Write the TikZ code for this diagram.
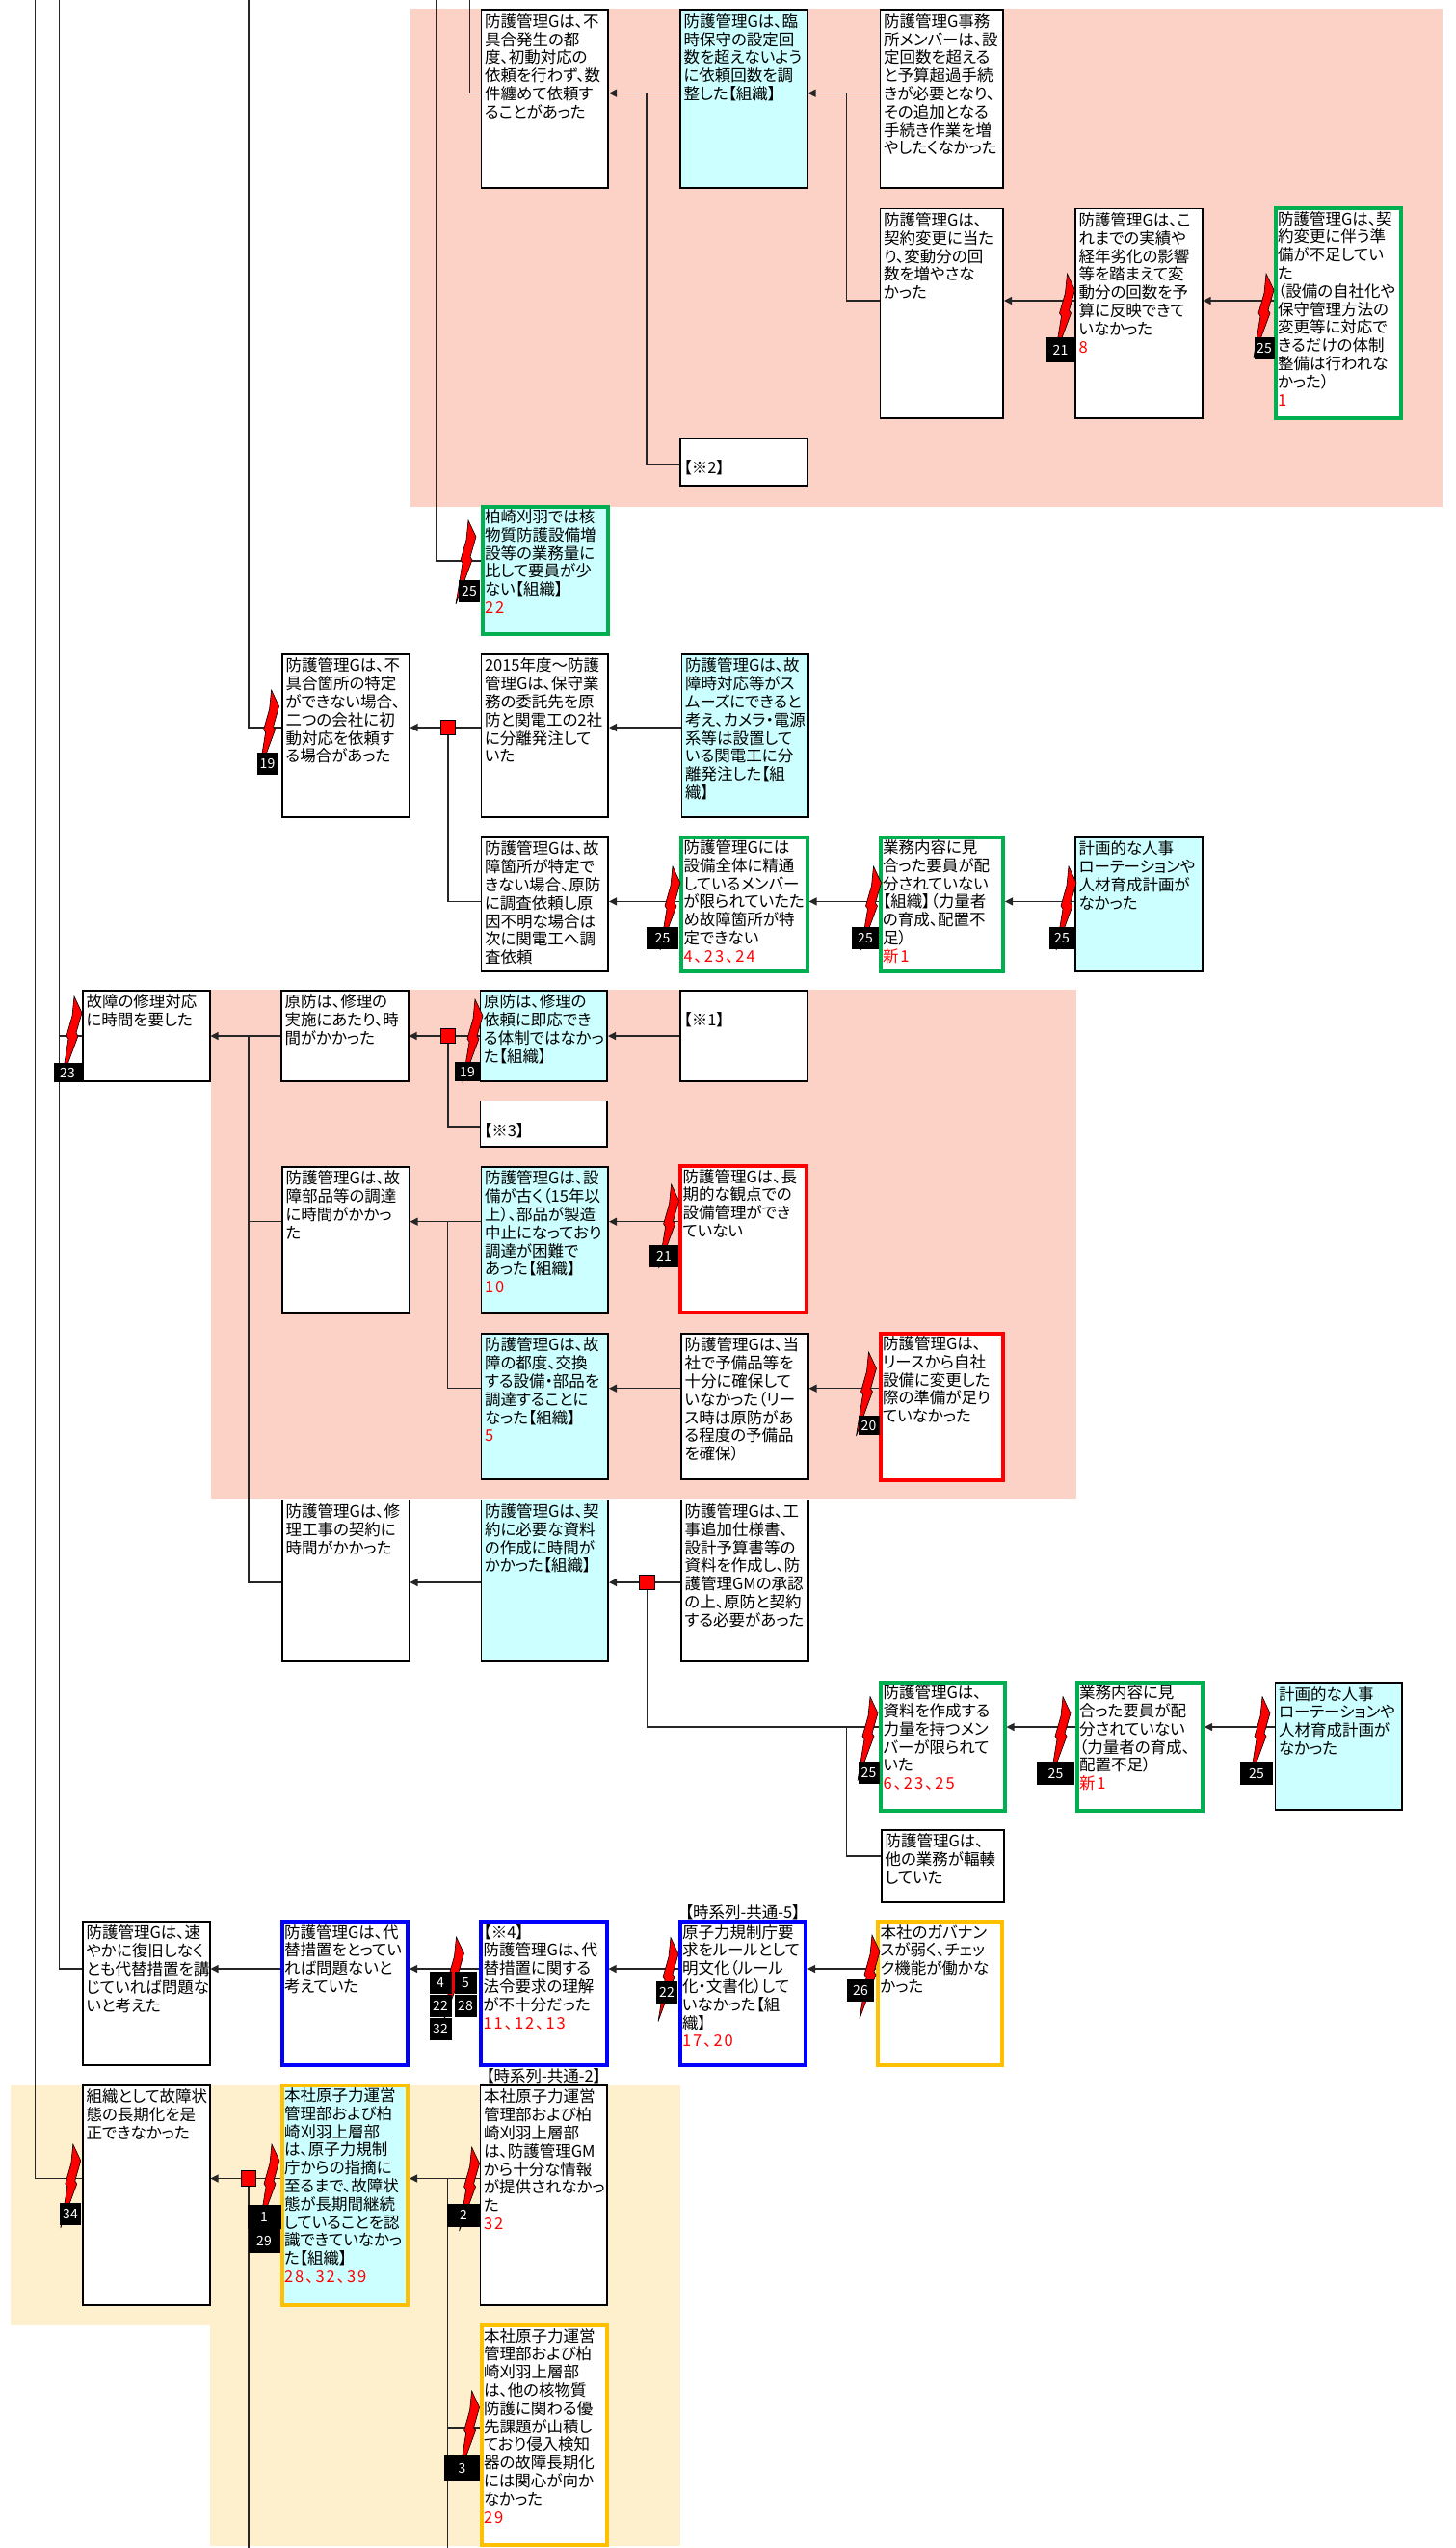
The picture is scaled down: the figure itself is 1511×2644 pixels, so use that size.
\documentclass[tikz,border=0pt]{standalone}
\usepackage{fontspec}
\setmainfont{Noto Sans CJK JP}[RawFeature=+palt]
\usetikzlibrary{arrows.meta,positioning}
\definecolor{rosa}{RGB}{252,210,199}
\definecolor{crema}{RGB}{255,240,205}
\definecolor{celeste}{RGB}{204,255,255}
\definecolor{verde}{RGB}{0,176,80}
\definecolor{oro}{RGB}{255,192,0}
\newcommand{\rojo}[1]{{\color{red}\addfontfeature{LetterSpace=12}#1}}
\tikzset{
  caja/.style={
    anchor=north west, draw, fill=white, line width=1.8pt, align=left,
    font=\fontsize{16.5}{18.8}\selectfont, text width=124.5pt,
    inner xsep=3.6pt, inner ysep=2pt, text height=16pt,
    text depth=\the\dimexpr#1pt-21.8pt\relax},
  cajagruesa/.style 2 args={
    anchor=north west, draw=#1, fill=white, line width=4pt, align=left,
    font=\fontsize{16.5}{18.8}\selectfont, text width=125.5pt,
    inner xsep=2.5pt, inner ysep=1pt, text height=16pt,
    text depth=\the\dimexpr#2pt-22pt\relax},
  nota/.style={font=\fontsize{16.5}{18.8}\selectfont, inner sep=0pt},
  nudo/.style={rectangle, draw, fill=red, line width=.8pt, minimum size=15.5pt, inner sep=0pt},
  marca/.style 2 args={rectangle, fill=black, text=white, font=\fontsize{14}{16}\selectfont,
    minimum width=#1pt, minimum height=#2pt, inner sep=0pt},
  rayo/.style={draw=black, line width=.6pt, fill=red, line join=miter},
  linea/.style={black!85, line width=1.2pt},
  enlace/.style={black!85, line width=1.2pt, -{Triangle[length=8pt,width=8pt]}}
}
\begin{document}
\begin{tikzpicture}[x=1pt,y=-1pt]
\useasboundingbox (0,0) rectangle (1511,2644);

% areas
\fill[rosa] (425.5,9.5) rectangle (1497,525.6);
\fill[rosa] (219,1027) rectangle (1117,1555);
\fill[crema] (11,2163.8) rectangle (706.4,2412.5);
\fill[crema] (218,2412) rectangle (706.4,2642);

% fila superior
\node[caja=186.5] (fuguai) at (498.5,9.5) {防護管理Gは、不\\具合発生の都\\度、初動対応の\\依頼を行わず、数\\件纏めて依頼す\\ることがあった};
\node[right=73pt of fuguai.north east, caja=186.5, fill=celeste] (rinji) {防護管理Gは、臨\\時保守の設定回\\数を超えないよう\\に依頼回数を調\\整した【組織】};
\node[right=74pt of rinji.north east, caja=186.5, text width=120.5pt] (jimu) {防護管理G事務\\所メンバーは、設\\定回数を超える\\と予算超過手続\\きが必要となり、\\その追加となる\\手続き作業を増\\やしたくなかった};
\node[below=19.5pt of jimu.south west, caja=219.5, text width=120.5pt] (henko) {防護管理Gは、\\契約変更に当た\\り、変動分の回\\数を増やさな\\かった};
\node[right=73pt of henko.north east, caja=219.5] (jisseki) {防護管理Gは、こ\\れまでの実績や\\経年劣化の影響\\等を踏まえて変\\動分の回数を予\\算に反映できて\\いなかった\\\rojo{8}};
\node[right=73pt of jisseki.north east, yshift=1.5pt, cajagruesa={verde}{222}] (junbi) {防護管理Gは、契\\約変更に伴う準\\備が不足してい\\た\\（設備の自社化や\\保守管理方法の\\変更等に対応で\\きるだけの体制\\整備は行われな\\かった）\\\rojo{1}};
\node[below=258pt of rinji.south west, caja=51] (kome2) {\mbox{}\\【※2】};
\node[below=327.5pt of fuguai.south west, cajagruesa={verde}{136.5}, fill=celeste] (yoin) {柏崎刈羽では核\\物質防護設備増\\設等の業務量に\\比して要員が少\\ない【組織】\\\rojo{22}};

% 不具合箇所
\node[caja=171] (tokutei) at (292,678) {防護管理Gは、不\\具合箇所の特定\\ができない場合、\\二つの会社に初\\動対応を依頼す\\る場合があった};
\node[right=73pt of tokutei.north east, caja=171] (bunri) {2015年度～防護\\管理Gは、保守業\\務の委託先を原\\防と関電工の2社\\に分離発注して\\いた};
\node[right=74.5pt of bunri.north east, caja=171, fill=celeste] (denko) {防護管理Gは、故\\障時対応等がス\\ムーズにできると\\考え、カメラ・電源\\系等は設置して\\いる関電工に分\\離発注した【組\\織】};
\node[below=19pt of bunri.south west, caja=141] (chosa) {防護管理Gは、故\\障箇所が特定で\\きない場合、原防\\に調査依頼し原\\因不明な場合は\\次に関電工へ調\\査依頼};
\node[right=73pt of chosa.north east, yshift=1.5pt, cajagruesa={verde}{143.5}] (seitsu) {防護管理Gには\\設備全体に精通\\しているメンバー\\が限られていたた\\め故障箇所が特\\定できない\\\rojo{4、23、24}};
\node[right=72pt of seitsu.north east, cajagruesa={verde}{143.5}, text width=122.5pt] (haibun) {業務内容に見\\合った要員が配\\分されていない\\【組織】（力量者\\の育成、配置不\\足）\\\rojo{新1}};
\node[right=72pt of haibun.north east, yshift=-1.5pt, caja=141, fill=celeste] (keikaku) {計画的な人事\\ローテーションや\\人材育成計画が\\なかった};

% 修理対応
\node[caja=95.5] (shuri) at (85,1027) {故障の修理対応\\に時間を要した};
\node[right=72.5pt of shuri.north east, caja=95.5] (genbo) {原防は、修理の\\実施にあたり、時\\間がかかった};
\node[right=73pt of genbo.north east, caja=95.5, fill=celeste] (sokuo) {原防は、修理の\\依頼に即応でき\\る体制ではなかっ\\た【組織】};
\node[right=74pt of sokuo.north east, caja=95.5] (kome1) {\mbox{}\\【※1】};
\node[below=19pt of sokuo.south west, caja=49] (kome3) {\mbox{}\\【※3】};

% 部品調達
\node[caja=153] (buhin) at (292,1210) {防護管理Gは、故\\障部品等の調達\\に時間がかかっ\\た};
\node[right=73pt of buhin.north east, caja=153, fill=celeste] (furui) {防護管理Gは、設\\備が古く（15年以\\上）、部品が製造\\中止になっており\\調達が困難で\\あった【組織】\\\rojo{10}};
\node[right=72pt of furui.north east, yshift=2pt, cajagruesa={red}{156}] (choki) {防護管理Gは、長\\期的な観点での\\設備管理ができ\\ていない};
\node[below=20pt of furui.south west, caja=152.7, fill=celeste] (tsudo) {防護管理Gは、故\\障の都度、交換\\する設備・部品を\\調達することに\\なった【組織】\\\rojo{5}};
\node[right=74pt of tsudo.north east, caja=152.7] (yobi) {防護管理Gは、当\\社で予備品等を\\十分に確保して\\いなかった（リー\\ス時は原防があ\\る程度の予備品\\を確保）};
\node[right=72pt of yobi.north east, yshift=1.5pt, cajagruesa={red}{156}, text width=122.5pt] (lease) {防護管理Gは、\\リースから自社\\設備に変更した\\際の準備が足り\\ていなかった};

% 修理工事の契約
\node[caja=169.5] (koji) at (292,1555.5) {防護管理Gは、修\\理工事の契約に\\時間がかかった};
\node[right=73pt of koji.north east, caja=169.5, fill=celeste] (shiryo) {防護管理Gは、契\\約に必要な資料\\の作成に時間が\\かかった【組織】};
\node[right=74pt of shiryo.north east, caja=169.5] (shiyo) {防護管理Gは、工\\事追加仕様書、\\設計予算書等の\\資料を作成し、防\\護管理GMの承認\\の上、原防と契約\\する必要があった};
\node[cajagruesa={verde}{137.5}, text width=123.5pt] (ryoryoku) at (912,1743.6) {防護管理Gは、\\資料を作成する\\力量を持つメン\\バーが限られて\\いた\\\rojo{6、23、25}};
\node[right=71pt of ryoryoku.north east, cajagruesa={verde}{137.5}] (haibun2) {業務内容に見\\合った要員が配\\分されていない\\（力量者の育成、\\配置不足）\\\rojo{新1}};
\node[right=72.5pt of haibun2.north east, yshift=-1.5pt, caja=134, fill=celeste] (keikaku2) {計画的な人事\\ローテーションや\\人材育成計画が\\なかった};
\node[caja=77, text width=120pt] (fukuso) at (914,1898) {防護管理Gは、\\他の業務が輻輳\\していた};

% 代替措置
\node[caja=151] (fukkyu) at (85,1993) {防護管理Gは、速\\やかに復旧しなく\\とも代替措置を講\\じていれば問題な\\いと考えた};
\node[right=72pt of fukkyu.north east, yshift=1pt, cajagruesa={blue}{152.5}] (sochi) {防護管理Gは、代\\替措置をとってい\\れば問題ないと\\考えていた};
\node[right=72pt of sochi.north east, cajagruesa={blue}{152.5}] (horei) {【※4】\\防護管理Gは、代\\替措置に関する\\法令要求の理解\\が不十分だった\\\rojo{11、12、13}};
\node[right=72pt of horei.north east, cajagruesa={blue}{152.5}] (kisei) {原子力規制庁要\\求をルールとして\\明文化（ルール\\化・文書化）して\\いなかった【組\\織】\\\rojo{17、20}};
\node[right=71pt of kisei.north east, cajagruesa={oro}{152.5}, text width=123.5pt] (gober) {本社のガバナン\\スが弱く、チェッ\\ク機能が働かな\\かった};
\node[above=0pt of kisei.north, nota] (rotulo5) {【時系列-共通-5】};

% 長期化
\node[caja=230] (choukika) at (85,2163) {組織として故障状\\態の長期化を是\\正できなかった};
\node[right=72pt of choukika.north east, yshift=1.5pt, cajagruesa={oro}{232.5}, fill=celeste] (ninshiki) {本社原子力運営\\管理部および柏\\崎刈羽上層部\\は、原子力規制\\庁からの指摘に\\至るまで、故障状\\態が長期間継続\\していることを認\\識できていなかっ\\た【組織】\\\rojo{28、32、39}};
\node[right=72.5pt of ninshiki.north east, yshift=-1.5pt, caja=230] (joho) {本社原子力運営\\管理部および柏\\崎刈羽上層部\\は、防護管理GM\\から十分な情報\\が提供されなかっ\\た\\\rojo{32}};
\node[below=18pt of joho.south west, cajagruesa={oro}{232}] (kanshin) {本社原子力運営\\管理部および柏\\崎刈羽上層部\\は、他の核物質\\防護に関わる優\\先課題が山積し\\ており侵入検知\\器の故障長期化\\には関心が向か\\なかった\\\rojo{29}};
\node[above=1pt of joho.north, nota] (rotulo2) {【時系列-共通-2】};

% nudos
\node[nudo] (n1) at (465,755) {};
\node[nudo] (n2) at (465,1075) {};
\node[nudo] (n3) at (671.5,1642) {};
\node[nudo] (n4) at (258,2260.5) {};

% filas
\coordinate (f1) at (0,96.7);
\coordinate (f2) at (0,312);
\coordinate (f3) at (0,482);
\coordinate (f4) at (0,582);
\coordinate (f5) at (0,935.4);
\coordinate (f6) at (0,1169);
\coordinate (f7) at (0,1267.7);
\coordinate (f8) at (0,1440.7);
\coordinate (f9) at (0,1792);
\coordinate (f10) at (0,1926);
\coordinate (f11) at (0,2043);
\coordinate (f12) at (0,2519);

% extremos libres
\coordinate (t1) at (36.7,0);
\coordinate (t2) at (61.6,0);
\coordinate (t3) at (258,0);
\coordinate (t4) at (452.7,0);
\coordinate (t5) at (487.5,0);
\coordinate (b1) at (258,2644);
\coordinate (b2) at (464.4,2644);
\coordinate (j1) at (671,96.7);
\coordinate (j2) at (878.6,96.7);
\coordinate (j3) at (258,1075);
\coordinate (j4) at (464.6,1267.7);
\coordinate (j5) at (878.3,1792);
\coordinate (j6) at (464.4,2260.5);

\draw[linea] (t5) |- (fuguai.west |- f1);
\draw[linea] (t4) |- (yoin.west |- f4);
\draw[linea] (t3) |- (tokutei.west |- n1);
\draw[linea] (t2) |- (shuri.west |- n2);
\draw[linea] (t2) |- (fukkyu.west |- f11);
\draw[linea] (t1) |- (choukika.west |- n4);

\draw[enlace] (rinji.west |- f1) -- (fuguai.east |- f1);
\draw[enlace] (jimu.west |- f1) -- (rinji.east |- f1);
\draw[linea] (kome2.west |- f3) -| (j1);
\draw[linea] (henko.west |- f2) -| (j2);
\draw[enlace] (jisseki.west |- f2) -- (henko.east |- f2);
\draw[enlace] (junbi.west |- f2) -- (jisseki.east |- f2);

\draw[enlace] (n1) -- (tokutei.east |- n1);
\draw[linea] (bunri.west |- n1) -- (n1);
\draw[enlace] (denko.west |- n1) -- (bunri.east |- n1);
\draw[linea] (n1) |- (chosa.west |- f5);
\draw[enlace] (seitsu.west |- f5) -- (chosa.east |- f5);
\draw[enlace] (haibun.west |- f5) -- (seitsu.east |- f5);
\draw[enlace] (keikaku.west |- f5) -- (haibun.east |- f5);

\draw[enlace] (genbo.west |- n2) -- (shuri.east |- n2);
\draw[enlace] (n2) -- (genbo.east |- n2);
\draw[linea] (sokuo.west |- n2) -- (n2);
\draw[enlace] (kome1.west |- n2) -- (sokuo.east |- n2);
\draw[linea] (n2) |- (kome3.west |- f6);
\draw[linea] (buhin.west |- f7) -| (j3);
\draw[linea] (koji.west |- n3) -| (j3);
\draw[enlace] (furui.west |- f7) -- (buhin.east |- f7);
\draw[enlace] (choki.west |- f7) -- (furui.east |- f7);
\draw[linea] (tsudo.west |- f8) -| (j4);
\draw[enlace] (yobi.west |- f8) -- (tsudo.east |- f8);
\draw[enlace] (lease.west |- f8) -- (yobi.east |- f8);

\draw[enlace] (shiryo.west |- n3) -- (koji.east |- n3);
\draw[enlace] (n3) -- (shiryo.east |- n3);
\draw[linea] (shiyo.west |- n3) -- (n3);
\draw[linea] (n3) |- (ryoryoku.west |- f9);
\draw[enlace] (haibun2.west |- f9) -- (ryoryoku.east |- f9);
\draw[enlace] (keikaku2.west |- f9) -- (haibun2.east |- f9);
\draw[linea] (fukuso.west |- f10) -| (j5);

\draw[enlace] (sochi.west |- f11) -- (fukkyu.east |- f11);
\draw[enlace] (horei.west |- f11) -- (sochi.east |- f11);
\draw[enlace] (kisei.west |- f11) -- (horei.east |- f11);
\draw[enlace] (gober.west |- f11) -- (kisei.east |- f11);

\draw[enlace] (n4) -- (choukika.east |- n4);
\draw[linea] (ninshiki.west |- n4) -- (n4);
\draw[enlace] (joho.west |- n4) -- (ninshiki.east |- n4);
\draw[linea] (n4) -- (b1);
\draw[linea] (j6) -- (b2);
\draw[linea] (kanshin.west |- f12) -| (j6);

% rayos
\foreach \x/\y in {1107.5/284, 1314/284, 486/540, 281.6/716, 698/899, 906.5/899,
                   1109/899, 77/1034, 493/1037, 696.6/1229, 901.5/1403, 903/1760.6,
                   1103/1760.6, 1310/1760.6, 696/2010.5, 905/2008, 473.5/2010,
                   75.8/2225, 282/2225, 489.6/2228, 489.6/2481}
  \draw[rayo, shift={(\x,\y)}] (0,0) -- (8,17) -- (2,38) -- (4,41) -- (-13,87)
    -- (-6,44) -- (-8,41) -- (-2,20) -- cycle;

% marcas
\node[marca={31}{26}] (m1) at (1100.5,363) {21};
\node[marca={21}{23}] (m2) at (1312,361.5) {25};
\node[marca={22}{23}] (m3) at (487,613.5) {25};
\node[marca={21}{23}] (m4) at (277.5,792) {19};
\node[marca={33}{23}] (m5) at (687.5,973) {25};
\node[marca={28}{23}] (m6) at (898,973) {25};
\node[marca={26}{23}] (m7) at (1102,973) {25};
\node[marca={29}{20}] (m8) at (70,1113) {23};
\node[marca={27}{20}] (m9) at (485,1112) {19};
\node[marca={30}{23}] (m10) at (689,1303.5) {21};
\node[marca={22}{20}] (m11) at (901.5,1479) {20};
\node[marca={22}{23}] (m12) at (901.5,1839.5) {25};
\node[marca={39}{24}] (m13) at (1095.5,1840) {25};
\node[marca={34}{24}] (m14) at (1304,1840) {25};
\node[marca={22}{23}] (m15) at (692,2067) {22};
\node[marca={28}{23}] (m16) at (893,2065) {26};
\node[marca={23}{23}] (m17) at (457,2057.5) {4};
\node[marca={23}{23}] (m18) at (483,2057.5) {5};
\node[marca={23}{23}] (m19) at (457,2081.5) {22};
\node[marca={23}{23}] (m20) at (483,2081.5) {28};
\node[marca={23}{23}] (m21) at (457,2105.5) {32};
\node[marca={22}{23}] (m22) at (73,2297.5) {34};
\node[marca={35}{25}] (m23) at (274,2300) {1};
\node[marca={33}{25}] (m24) at (274,2325.5) {29};
\node[marca={34}{24}] (m25) at (481,2298.5) {2};
\node[marca={37}{26}] (m26) at (479.5,2561) {3};

\end{tikzpicture}
\end{document}
